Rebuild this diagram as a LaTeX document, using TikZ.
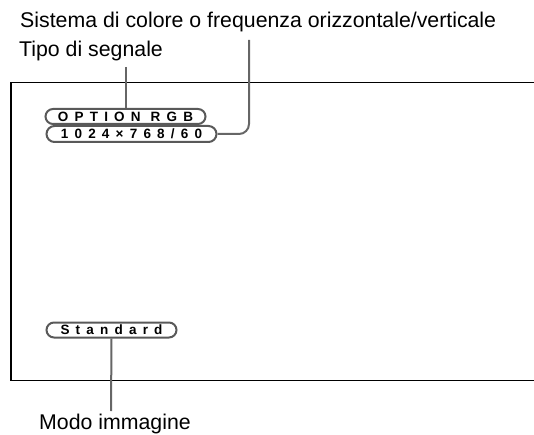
\documentclass[tikz,border=0pt]{standalone}
\usepackage{fontspec}
\setmainfont{Liberation Sans}
\newfontfamily\pillfont[LetterSpace=46]{Liberation Sans Bold}
\usetikzlibrary{positioning,shapes.misc}

\begin{document}
\begin{tikzpicture}[x=1pt,y=-1pt,
  label text/.style={anchor=base west,inner sep=0pt,font=\fontsize{21.3}{24}\selectfont},
  pill/.style={rounded rectangle,draw=black!65,line width=2pt,inner sep=0pt,
    minimum height=15pt,font=\pillfont\fontsize{13.5}{14}\selectfont},
  lead/.style={draw=black!60,line width=2pt}]
\useasboundingbox (0,0) rectangle (534,435);
% screen frame
\draw[line width=1.3pt] (534,82.5) -- (11,82.5) -- (11,380.5) -- (534,380.5);
% indications on screen
\node[pill,minimum width=160pt] (opt) at (125.5,116.5) {OPTION RGB};
\node[pill,minimum width=170pt,minimum height=16pt] (res) at (131.5,134) {1024×768/60};
\node[pill,minimum width=130pt] (std) at (111.5,330) {Standard};
% labels
\node[label text] (sist) at (20,28) {Sistema di colore o frequenza orizzontale/verticale};
\node[label text] (tipo) at (19,57) {Tipo di segnale};
\node[label text] (modo) at (39,429) {Modo immagine};
% leaders
\coordinate (tipoend) at (125.5,67);
\coordinate (sistend) at (249,40);
\coordinate (modoend) at (111,411);
\draw[lead] (tipoend) -- (opt.north -| tipoend);
\draw[lead,rounded corners=10pt] (sistend) |- (res.east);
\draw[lead] (std.south) -- (modoend);
\end{tikzpicture}
\end{document}
